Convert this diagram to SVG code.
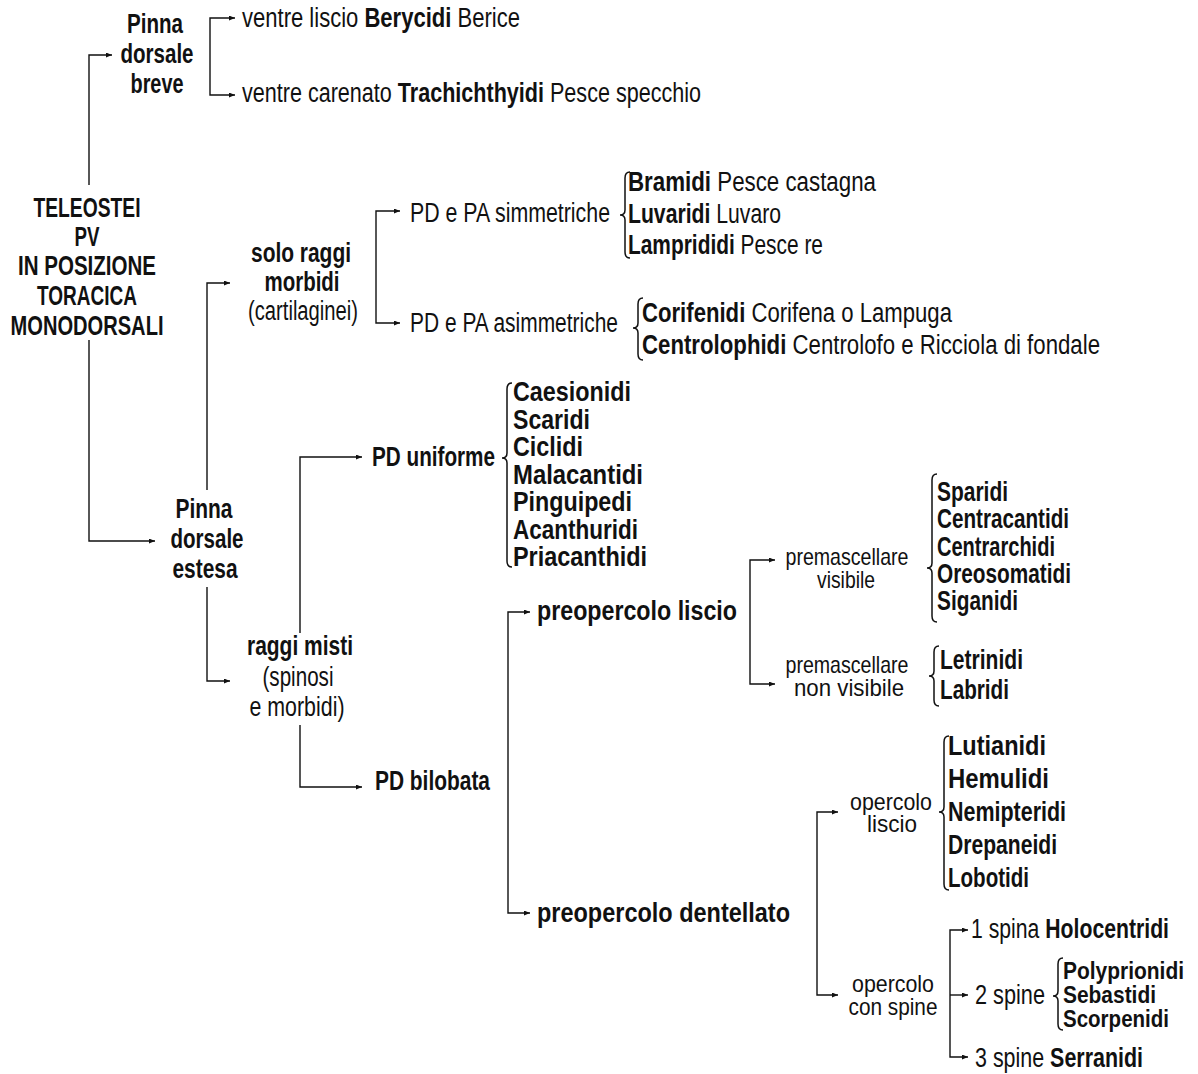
<svg xmlns="http://www.w3.org/2000/svg" width="1198" height="1074" viewBox="0 0 1198 1074">
<style>
text{font-family:"Liberation Sans",Arial,sans-serif;font-size:27px;fill:#111}
.b{font-weight:bold}
.m{text-anchor:middle}
.s{font-size:24px}
.s2{font-size:24px}
.c{fill:none;stroke:#111;stroke-width:1.4}
.br{fill:none;stroke:#111;stroke-width:1.5}
</style>
<defs>
<marker id="ah" markerUnits="userSpaceOnUse" markerWidth="6" markerHeight="5" refX="6" refY="2.5" orient="auto">
<path d="M0,0 L6,2.5 L0,5 z" fill="#111"/>
</marker>
</defs>
<g id="connectors" class="c" marker-end="url(#ah)">
<path d="M89,185 V55 H112"/>
<path d="M89,340 V541 H155"/>
<path d="M210,56 V18 H235"/>
<path d="M210,56 V95 H235"/>
<path d="M207,490 V283 H230"/>
<path d="M207,587 V681 H230"/>
<path d="M376,267 V211 H400"/>
<path d="M376,267 V323 H400"/>
<path d="M300,633 V457 H362"/>
<path d="M300,725 V787 H362"/>
<path d="M508,760 V612 H530"/>
<path d="M508,760 V913 H530"/>
<path d="M750,620 V560 H775"/>
<path d="M750,620 V684 H775"/>
<path d="M817,900 V812 H838"/>
<path d="M817,900 V995 H838"/>
<path d="M950,995 V930 H968"/>
<path d="M950,995 H968"/>
<path d="M950,995 V1057 H968"/>
</g>
<g id="braces" class="br">
<path d="M630,172 Q625,172 625,178 L625,210 Q625,215 620,215 Q625,215 625,220 L625,252 Q625,258 630,258"/>
<path d="M643,298 Q638,298 638,304 L638,323 Q638,328 633,328 Q638,328 638,333 L638,354 Q638,360 643,360"/>
<path d="M512,383 Q507,383 507,389 L507,453 Q507,458 502,458 Q507,458 507,463 L507,561 Q507,567 512,567"/>
<path d="M937,474 Q932,474 932,480 L932,563 Q932,568 927,568 Q932,568 932,573 L932,616 Q932,622 937,622"/>
<path d="M939,646 Q934,646 934,652 L934,671 Q934,676 929,676 Q934,676 934,681 L934,700 Q934,706 939,706"/>
<path d="M949,736 Q944,736 944,742 L944,807 Q944,812 939,812 Q944,812 944,817 L944,884 Q944,890 949,890"/>
<path d="M1063,958 Q1058,958 1058,964 L1058,991 Q1058,996 1053,996 Q1058,996 1058,1001 L1058,1024 Q1058,1030 1063,1030"/>
</g>
<g id="root">
<text class="b m" x="87" y="217" textLength="107" lengthAdjust="spacingAndGlyphs">TELEOSTEI</text>
<text class="b m" x="87" y="246" textLength="25" lengthAdjust="spacingAndGlyphs">PV</text>
<text class="b m" x="87" y="275" textLength="138" lengthAdjust="spacingAndGlyphs">IN POSIZIONE</text>
<text class="b m" x="87" y="305" textLength="100" lengthAdjust="spacingAndGlyphs">TORACICA</text>
<text class="b m" x="87" y="335" textLength="153" lengthAdjust="spacingAndGlyphs">MONODORSALI</text>
</g>
<g id="pinna-breve">
<text class="b m" x="155" y="33" textLength="56" lengthAdjust="spacingAndGlyphs">Pinna</text>
<text class="b m" x="157" y="63" textLength="73" lengthAdjust="spacingAndGlyphs">dorsale</text>
<text class="b m" x="157" y="93" textLength="53" lengthAdjust="spacingAndGlyphs">breve</text>
</g>
<g id="ventre-liscio"><text x="242" y="27" textLength="278" lengthAdjust="spacingAndGlyphs">ventre liscio <tspan class="b">Berycidi</tspan> Berice</text></g>
<g id="ventre-carenato"><text x="242" y="102" textLength="459" lengthAdjust="spacingAndGlyphs">ventre carenato <tspan class="b">Trachichthyidi</tspan> Pesce specchio</text></g>
<g id="solo-raggi">
<text class="b m" x="301" y="262" textLength="100" lengthAdjust="spacingAndGlyphs">solo raggi</text>
<text class="b m" x="302" y="291" textLength="75" lengthAdjust="spacingAndGlyphs">morbidi</text>
<text class="m" x="303" y="320" textLength="110" lengthAdjust="spacingAndGlyphs">(cartilaginei)</text>
</g>
<g id="simmetriche"><text x="410" y="222" textLength="200" lengthAdjust="spacingAndGlyphs">PD e PA simmetriche</text></g>
<g id="asimmetriche"><text x="410" y="332" textLength="208" lengthAdjust="spacingAndGlyphs">PD e PA asimmetriche</text></g>
<g id="list-simm">
<text x="628" y="191" textLength="248" lengthAdjust="spacingAndGlyphs"><tspan class="b">Bramidi</tspan> Pesce castagna</text>
<text x="628" y="223" textLength="153" lengthAdjust="spacingAndGlyphs"><tspan class="b">Luvaridi</tspan> Luvaro</text>
<text x="628" y="254" textLength="195" lengthAdjust="spacingAndGlyphs"><tspan class="b">Lamprididi</tspan> Pesce re</text>
</g>
<g id="list-asimm">
<text x="642" y="322" textLength="310" lengthAdjust="spacingAndGlyphs"><tspan class="b">Corifenidi</tspan> Corifena o Lampuga</text>
<text x="642" y="354" textLength="458" lengthAdjust="spacingAndGlyphs"><tspan class="b">Centrolophidi</tspan> Centrolofo e Ricciola di fondale</text>
</g>
<g id="pinna-estesa">
<text class="b m" x="204" y="518" textLength="57" lengthAdjust="spacingAndGlyphs">Pinna</text>
<text class="b m" x="207" y="548" textLength="73" lengthAdjust="spacingAndGlyphs">dorsale</text>
<text class="b m" x="205" y="578" textLength="65" lengthAdjust="spacingAndGlyphs">estesa</text>
</g>
<g id="pd-uniforme"><text class="b" x="372" y="466" textLength="123" lengthAdjust="spacingAndGlyphs">PD uniforme</text></g>
<g id="list-uniforme">
<text class="b" x="513" y="401" textLength="118" lengthAdjust="spacingAndGlyphs">Caesionidi</text>
<text class="b" x="513" y="428.5" textLength="77" lengthAdjust="spacingAndGlyphs">Scaridi</text>
<text class="b" x="513" y="456" textLength="70" lengthAdjust="spacingAndGlyphs">Ciclidi</text>
<text class="b" x="513" y="483.5" textLength="130" lengthAdjust="spacingAndGlyphs">Malacantidi</text>
<text class="b" x="513" y="511" textLength="119" lengthAdjust="spacingAndGlyphs">Pinguipedi</text>
<text class="b" x="513" y="538.5" textLength="125" lengthAdjust="spacingAndGlyphs">Acanthuridi</text>
<text class="b" x="513" y="566" textLength="134" lengthAdjust="spacingAndGlyphs">Priacanthidi</text>
</g>
<g id="raggi-misti">
<text class="b m" x="300" y="655" textLength="106" lengthAdjust="spacingAndGlyphs">raggi misti</text>
<text class="m" x="298" y="686" textLength="71" lengthAdjust="spacingAndGlyphs">(spinosi</text>
<text class="m" x="297" y="716" textLength="95" lengthAdjust="spacingAndGlyphs">e morbidi)</text>
</g>
<g id="pd-bilobata"><text class="b" x="375" y="790" textLength="115" lengthAdjust="spacingAndGlyphs">PD bilobata</text></g>
<g id="preopercolo-liscio"><text class="b" x="537" y="620" textLength="200" lengthAdjust="spacingAndGlyphs">preopercolo liscio</text></g>
<g id="preopercolo-dentellato"><text class="b" x="537" y="922" textLength="253" lengthAdjust="spacingAndGlyphs">preopercolo dentellato</text></g>
<g id="premascellare-visibile">
<text class="m s" x="847" y="565" textLength="123" lengthAdjust="spacingAndGlyphs">premascellare</text>
<text class="m s" x="846" y="588" textLength="58" lengthAdjust="spacingAndGlyphs">visibile</text>
</g>
<g id="premascellare-non">
<text class="m s" x="847" y="673" textLength="123" lengthAdjust="spacingAndGlyphs">premascellare</text>
<text class="m s" x="849" y="696" textLength="110" lengthAdjust="spacingAndGlyphs">non visibile</text>
</g>
<g id="list-visibile">
<text class="b" x="937" y="501" textLength="71" lengthAdjust="spacingAndGlyphs">Sparidi</text>
<text class="b" x="937" y="528" textLength="132" lengthAdjust="spacingAndGlyphs">Centracantidi</text>
<text class="b" x="937" y="556" textLength="118" lengthAdjust="spacingAndGlyphs">Centrarchidi</text>
<text class="b" x="937" y="583" textLength="134" lengthAdjust="spacingAndGlyphs">Oreosomatidi</text>
<text class="b" x="937" y="610" textLength="81" lengthAdjust="spacingAndGlyphs">Siganidi</text>
</g>
<g id="list-nonvisibile">
<text class="b" x="940" y="669" textLength="83" lengthAdjust="spacingAndGlyphs">Letrinidi</text>
<text class="b" x="940" y="699" textLength="69" lengthAdjust="spacingAndGlyphs">Labridi</text>
</g>
<g id="opercolo-liscio">
<text class="m s" x="891" y="810" textLength="82" lengthAdjust="spacingAndGlyphs">opercolo</text>
<text class="m s" x="892" y="832" textLength="50" lengthAdjust="spacingAndGlyphs">liscio</text>
</g>
<g id="list-opercolo-liscio">
<text class="b" x="948" y="755" textLength="98" lengthAdjust="spacingAndGlyphs">Lutianidi</text>
<text class="b" x="948" y="788" textLength="101" lengthAdjust="spacingAndGlyphs">Hemulidi</text>
<text class="b" x="948" y="821" textLength="118" lengthAdjust="spacingAndGlyphs">Nemipteridi</text>
<text class="b" x="948" y="854" textLength="109" lengthAdjust="spacingAndGlyphs">Drepaneidi</text>
<text class="b" x="948" y="887" textLength="81" lengthAdjust="spacingAndGlyphs">Lobotidi</text>
</g>
<g id="opercolo-spine">
<text class="m s" x="893" y="992" textLength="82" lengthAdjust="spacingAndGlyphs">opercolo</text>
<text class="m s" x="893" y="1015" textLength="89" lengthAdjust="spacingAndGlyphs">con spine</text>
</g>
<g id="spina1"><text x="971" y="938" textLength="198" lengthAdjust="spacingAndGlyphs">1 spina <tspan class="b">Holocentridi</tspan></text></g>
<g id="spine2"><text x="975" y="1004" textLength="70" lengthAdjust="spacingAndGlyphs">2 spine</text></g>
<g id="list-spine2">
<text class="b s2" x="1063" y="979" textLength="121" lengthAdjust="spacingAndGlyphs">Polyprionidi</text>
<text class="b s2" x="1063" y="1003" textLength="93" lengthAdjust="spacingAndGlyphs">Sebastidi</text>
<text class="b s2" x="1063" y="1027" textLength="106" lengthAdjust="spacingAndGlyphs">Scorpenidi</text>
</g>
<g id="spine3"><text x="975" y="1067" textLength="168" lengthAdjust="spacingAndGlyphs">3 spine <tspan class="b">Serranidi</tspan></text></g>
</svg>
